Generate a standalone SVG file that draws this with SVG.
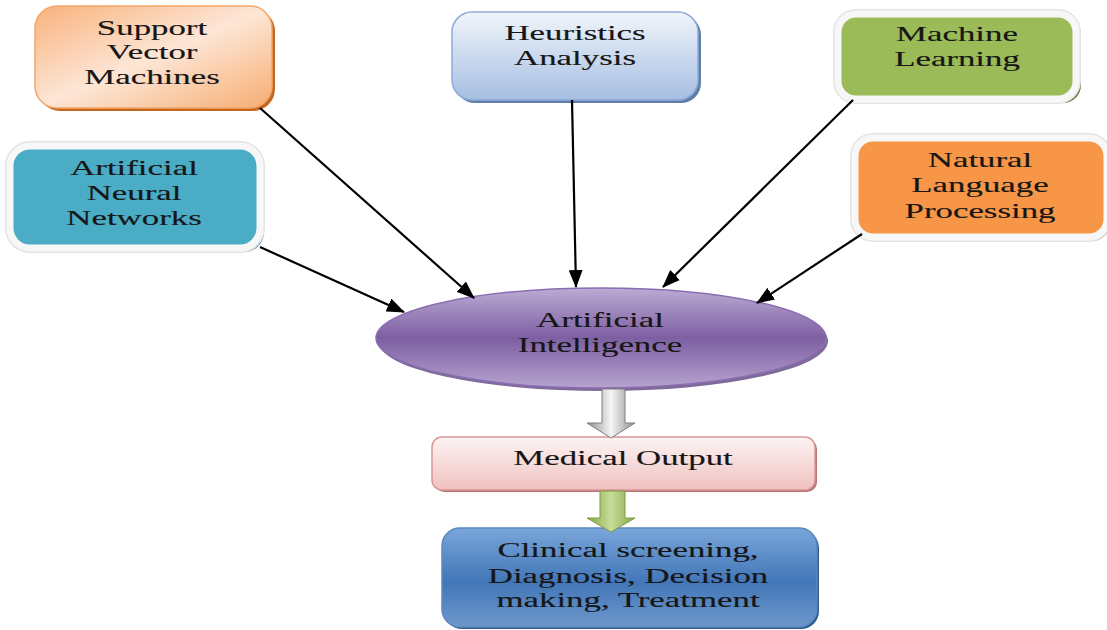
<svg xmlns="http://www.w3.org/2000/svg" width="1107" height="630" viewBox="0 0 1107 630">
  <style>
    .lbl { font-family: "Liberation Serif", "Times New Roman", serif; font-size: 21.5px; fill: #161616; text-anchor: middle; stroke: #161616; stroke-width: 0.15; }
    .link { stroke: #000; stroke-width: 2.2; fill: none; marker-end: url(#head); }
    .ring { fill: none; stroke: #e4e4e4; stroke-width: 10; }
  </style>
  <defs>
    <marker id="head" markerUnits="userSpaceOnUse" markerWidth="18" markerHeight="14" refX="17" refY="7" orient="auto">
      <path d="M0,0 L18,7 L0,14 Z" fill="#000"/>
    </marker>
    <linearGradient id="gSvm" x1="0" y1="0" x2="1" y2="1">
      <stop offset="0" stop-color="#f8b27c"/>
      <stop offset="0.5" stop-color="#fde6d6"/>
      <stop offset="1" stop-color="#f7ad72"/>
    </linearGradient>
    <linearGradient id="gHeur" x1="0" y1="0" x2="0" y2="1">
      <stop offset="0" stop-color="#f1f5fb"/>
      <stop offset="1" stop-color="#a6bee2"/>
    </linearGradient>
    <linearGradient id="gAI" x1="0" y1="0" x2="0" y2="1">
      <stop offset="0" stop-color="#bcabd4"/>
      <stop offset="0.5" stop-color="#7d5fa2"/>
      <stop offset="1" stop-color="#b6a3cf"/>
    </linearGradient>
    <linearGradient id="gGray" x1="0" y1="0" x2="1" y2="0">
      <stop offset="0" stop-color="#8f8f8f"/>
      <stop offset="0.5" stop-color="#f6f6f6"/>
      <stop offset="1" stop-color="#8f8f8f"/>
    </linearGradient>
    <linearGradient id="gGreen" x1="0" y1="0" x2="1" y2="0">
      <stop offset="0" stop-color="#86a846"/>
      <stop offset="0.5" stop-color="#c7dc99"/>
      <stop offset="1" stop-color="#86a846"/>
    </linearGradient>
    <linearGradient id="gMed" x1="0" y1="0" x2="0" y2="1">
      <stop offset="0" stop-color="#fdf4f4"/>
      <stop offset="1" stop-color="#efc1c0"/>
    </linearGradient>
    <linearGradient id="gOut" x1="0" y1="0" x2="0" y2="1">
      <stop offset="0" stop-color="#79a6da"/>
      <stop offset="0.55" stop-color="#4276b8"/>
      <stop offset="1" stop-color="#6e98cc"/>
    </linearGradient>
  </defs>

  <!-- input techniques -->
  <g id="svm">
    <rect x="38" y="9" width="237" height="102" rx="22" fill="#c5671d"/>
    <rect x="35" y="6" width="237" height="102" rx="22" fill="url(#gSvm)" stroke="#f3a66a" stroke-width="1.5"/>
    <g transform="translate(152 0) scale(1.62 1)">
      <text class="lbl" x="0" y="35">Support</text>
      <text class="lbl" x="0" y="59">Vector</text>
      <text class="lbl" x="0" y="84">Machines</text>
    </g>
  </g>

  <g id="heuristics">
    <rect x="455" y="15" width="246" height="88" rx="20" fill="#5f7fa8"/>
    <rect x="452" y="12" width="246" height="88" rx="20" fill="url(#gHeur)" stroke="#8eabd6" stroke-width="1.5"/>
    <g transform="translate(575 0) scale(1.62 1)">
      <text class="lbl" x="0" y="40">Heuristics</text>
      <text class="lbl" x="0" y="65">Analysis</text>
    </g>
  </g>

  <g id="ml">
    <rect x="841" y="17" width="240" height="86" rx="18" fill="#5e7a2e"/>
    <rect x="838" y="14" width="238" height="85" rx="18" class="ring"/>
    <rect x="838" y="14" width="238" height="85" rx="18" fill="#9bbb59" stroke="#f7f7f7" stroke-width="7"/>
    <g transform="translate(957 0) scale(1.62 1)">
      <text class="lbl" x="0" y="41">Machine</text>
      <text class="lbl" x="0" y="66">Learning</text>
    </g>
  </g>

  <g id="nlp">
    <rect x="858" y="142" width="252" height="99" rx="18" fill="#b25710"/>
    <rect x="855" y="138" width="252" height="99" rx="18" class="ring"/>
    <rect x="855" y="138" width="252" height="99" rx="18" fill="#f79646" stroke="#f7f7f7" stroke-width="7"/>
    <g transform="translate(980 0) scale(1.62 1)">
      <text class="lbl" x="0" y="167">Natural</text>
      <text class="lbl" x="0" y="192">Language</text>
      <text class="lbl" x="0" y="218">Processing</text>
    </g>
  </g>

  <g id="ann">
    <rect x="14" y="150" width="250" height="102" rx="20" fill="#2f7a8e"/>
    <rect x="10" y="146" width="250" height="102" rx="20" class="ring"/>
    <rect x="10" y="146" width="250" height="102" rx="20" fill="#4bacc6" stroke="#f7f7f7" stroke-width="7"/>
    <g transform="translate(134 0) scale(1.62 1)">
      <text class="lbl" x="0" y="175">Artificial</text>
      <text class="lbl" x="0" y="200">Neural</text>
      <text class="lbl" x="0" y="225">Networks</text>
    </g>
  </g>

  <!-- central node -->
  <g id="ai">
    <ellipse cx="603" cy="341" rx="225" ry="50" fill="#5d4580" opacity="0.8"/>
    <ellipse cx="601" cy="338" rx="225" ry="50" fill="url(#gAI)" stroke="#8a6db0" stroke-width="1.5"/>
    <g transform="translate(600 0) scale(1.62 1)">
      <text class="lbl" x="0" y="327">Artificial</text>
      <text class="lbl" x="0" y="352">Intelligence</text>
    </g>
  </g>

  <!-- outputs -->
  <g id="medical-output">
    <rect x="434" y="439" width="383" height="53" rx="10" fill="#b57472"/>
    <rect x="432" y="437" width="383" height="53" rx="10" fill="url(#gMed)" stroke="#d99694" stroke-width="1.5"/>
    <g transform="translate(623 0) scale(1.62 1)">
      <text class="lbl" x="0" y="465">Medical Output</text>
    </g>
  </g>

  <g id="applications">
    <rect x="444" y="530" width="375" height="99" rx="18" fill="#2e5a8e"/>
    <rect x="442" y="528" width="375" height="99" rx="18" fill="url(#gOut)" stroke="#5b87c0" stroke-width="1.5"/>
    <g transform="translate(628 0) scale(1.62 1)">
      <text class="lbl" x="0" y="557">Clinical screening,</text>
      <text class="lbl" x="0" y="583">Diagnosis, Decision</text>
      <text class="lbl" x="0" y="607">making, Treatment</text>
    </g>
  </g>

  <!-- connectors -->
  <g id="connectors">
    <line class="link" x1="260" y1="108" x2="474" y2="298"/>
    <line class="link" x1="260" y1="247" x2="404" y2="312"/>
    <line class="link" x1="572" y1="100" x2="576" y2="287"/>
    <line class="link" x1="853" y1="100" x2="663" y2="287"/>
    <line class="link" x1="862" y1="234" x2="757" y2="303"/>
    <path d="M602,389 H625 V423 H635 L611,438 L587,423 H602 Z" fill="url(#gGray)" stroke="#7f7f7f" stroke-width="1"/>
    <path d="M600,491 H625 V518 H635 L611,532 L587,518 H600 Z" fill="url(#gGreen)" stroke="#7f9c3f" stroke-width="1"/>
  </g>
</svg>
